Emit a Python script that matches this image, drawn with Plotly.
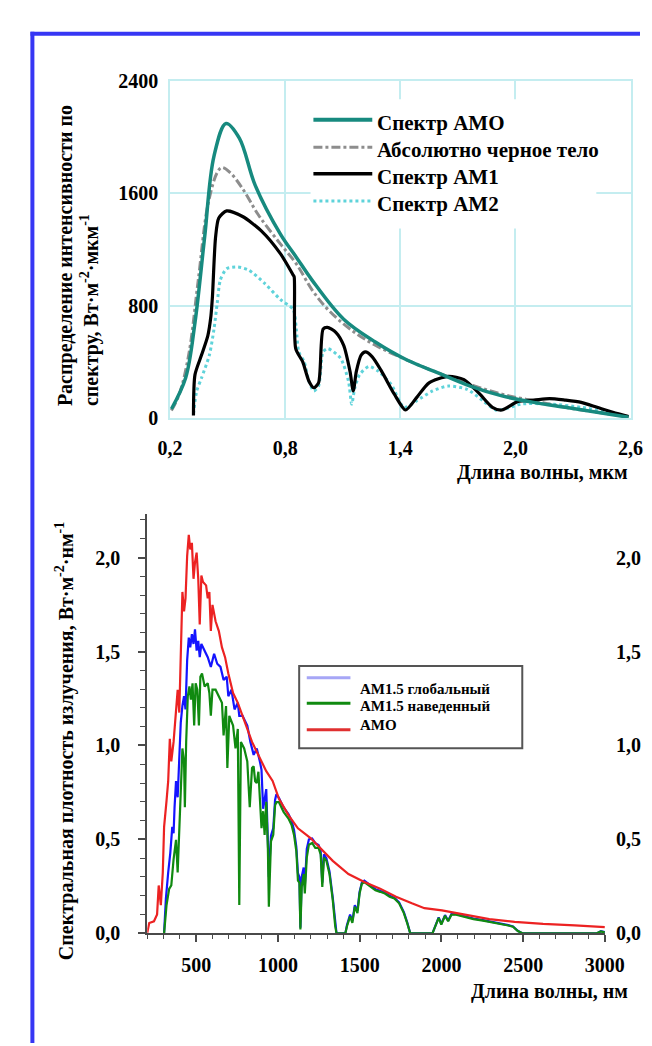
import plotly.graph_objects as go

W, H = 652, 1046
def px(x):
    return x / W
def py(y):
    return 1 - y / H

FONT = "Liberation Serif, Times New Roman, serif"

# ---------------- top chart data (мкм, Вт·м-2·мкм-1) ----------------
TOP_X_TICKS = [0.2, 0.8, 1.4, 2.0, 2.6]
TOP_X_TEXT = ["0,2", "0,8", "1,4", "2,0", "2,6"]
TOP_Y_TICKS = [0, 800, 1600, 2400]
TOP_Y_TEXT = ["0", "800", "1600", "2400"]

AM0_X = [0.207, 0.281, 0.33, 0.38, 0.429, 0.492, 0.561, 0.644, 0.776, 0.858, 0.94, 1.105, 1.27, 1.435, 1.6, 1.765, 1.93, 2.095, 2.26, 2.425, 2.59]
AM0_Y = [67, 287, 682, 1285, 1864, 2096, 1992, 1656, 1308, 1146, 983, 705, 543, 415, 322, 230, 160, 114, 79, 44, 9]

BB_X = [0.207, 0.248, 0.297, 0.347, 0.397, 0.446, 0.47, 0.512, 0.578, 0.66, 0.776, 0.858, 0.94, 1.023, 1.138, 1.27, 1.435, 1.6, 1.765, 1.93, 2.095, 2.26, 2.425, 2.59]
BB_Y = [56, 172, 450, 983, 1517, 1748, 1783, 1748, 1633, 1447, 1238, 1099, 914, 774, 635, 520, 415, 322, 241, 172, 125, 79, 44, 14]

AM1_X = [0.322, 0.33, 0.364, 0.397, 0.413, 0.421, 0.437, 0.454, 0.495, 0.578, 0.677, 0.776, 0.842, 0.847, 0.855, 0.891, 0.924, 0.949, 0.974, 0.998, 1.02, 1.064, 1.105, 1.138, 1.155, 1.171, 1.196, 1.218, 1.254, 1.303, 1.369, 1.427, 1.485, 1.55, 1.65, 1.732, 1.815, 1.88, 1.93, 2.013, 2.096, 2.178, 2.261, 2.343, 2.426, 2.508, 2.59]
AM1_Y = [21, 311, 450, 589, 728, 867, 1285, 1424, 1475, 1435, 1331, 1169, 1018, 1006, 496, 403, 264, 218, 253, 635, 647, 612, 519, 334, 195, 334, 450, 473, 438, 334, 172, 60, 148, 253, 299, 276, 172, 79, 60, 121, 130, 141, 130, 114, 79, 44, 14]

AM2_X = [0.322, 0.339, 0.364, 0.405, 0.429, 0.446, 0.462, 0.495, 0.553, 0.611, 0.693, 0.776, 0.842, 0.858, 0.871, 0.899, 0.924, 0.949, 0.974, 0.998, 1.023, 1.089, 1.13, 1.147, 1.163, 1.188, 1.237, 1.287, 1.353, 1.419, 1.485, 1.568, 1.65, 1.749, 1.831, 1.897, 1.947, 2.029, 2.178, 2.343, 2.508, 2.59]
AM2_Y = [32, 195, 287, 450, 635, 821, 983, 1064, 1076, 1053, 960, 844, 774, 635, 473, 403, 264, 195, 230, 473, 496, 427, 264, 102, 218, 311, 369, 334, 241, 79, 125, 195, 230, 206, 125, 60, 67, 102, 102, 79, 37, 9]

TOP_NAMES = ["Спектр АМО", "Абсолютно черное тело", "Спектр АМ1", "Спектр АМ2"]

# ---------------- bottom chart data (нм, Вт·м-2·нм-1) ----------------
BOT_X_TICKS = [500, 1000, 1500, 2000, 2500, 3000]
BOT_X_TEXT = ["500", "1000", "1500", "2000", "2500", "3000"]
BOT_Y_TICKS = [0.0, 0.5, 1.0, 1.5, 2.0]
BOT_Y_TEXT = ["0,0", "0,5", "1,0", "1,5", "2,0"]

RED_X = [200, 212, 241, 260, 270, 283, 295, 303, 318, 328, 338, 347, 361, 376, 386, 396, 405, 415, 425, 434, 444, 454, 463, 473, 483, 492, 502, 512, 521, 531, 541, 560, 570, 580, 589, 599, 618, 638, 657, 676, 696, 725, 754, 783, 812, 841, 870, 899, 928, 967, 1006, 1064, 1122, 1199, 1257, 1335, 1431, 1528, 1625, 1722, 1819, 1896, 2003, 2138, 2293, 2448, 2622, 2816, 3000]
RED_Y = [0.003, 0.055, 0.064, 0.10, 0.255, 0.15, 0.324, 0.567, 0.706, 0.81, 1.036, 0.915, 1.019, 1.21, 1.296, 1.175, 1.574, 1.817, 1.713, 1.783, 2.008, 2.121, 2.043, 2.078, 1.887, 1.974, 2.026, 1.887, 1.644, 1.904, 1.87, 1.852, 1.783, 1.817, 1.609, 1.748, 1.661, 1.609, 1.522, 1.47, 1.383, 1.279, 1.227, 1.158, 1.088, 1.019, 0.967, 0.915, 0.863, 0.811, 0.716, 0.629, 0.559, 0.507, 0.455, 0.386, 0.316, 0.273, 0.238, 0.195, 0.16, 0.134, 0.122, 0.099, 0.076, 0.061, 0.050, 0.042, 0.033]

BLUE_X = [303, 314, 328, 341, 353, 361, 367, 376, 386, 396, 405, 415, 425, 434, 444, 454, 463, 473, 483, 492, 502, 512, 521, 531, 551, 570, 589, 609, 628, 648, 667, 686, 696, 715, 734, 754, 763, 783, 812, 831, 851, 870, 889, 899, 909, 918, 928, 938, 944, 957, 971, 982, 990, 1006, 1034, 1064, 1083, 1098, 1112, 1122, 1131, 1137, 1145, 1157, 1164, 1176, 1189, 1209, 1228, 1248, 1261, 1271, 1281, 1296, 1315, 1335, 1350, 1358, 1412, 1422, 1441, 1455, 1470, 1486, 1499, 1513, 1528, 1557, 1577, 1596, 1625, 1654, 1683, 1712, 1741, 1770, 1790, 1809, 1945, 1964, 1983, 1999, 2022, 2041, 2061, 2090, 2138, 2196, 2254, 2312, 2371, 2409, 2438, 2467, 2496, 2950, 2975, 3000]
BLUE_Y = [0.003, 0.185, 0.324, 0.428, 0.567, 0.533, 0.671, 0.81, 0.724, 0.915, 1.123, 1.21, 1.262, 1.192, 1.453, 1.574, 1.522, 1.592, 1.54, 1.618, 1.505, 1.557, 1.47, 1.54, 1.505, 1.47, 1.418, 1.488, 1.435, 1.418, 1.349, 1.366, 1.262, 1.297, 1.192, 1.227, 1.158, 1.158, 1.106, 1.019, 0.95, 0.984, 0.915, 0.87, 0.663, 0.72, 0.768, 0.49, 0.30, 0.52, 0.56, 0.71, 0.741, 0.72, 0.67, 0.635, 0.60, 0.55, 0.46, 0.32, 0.299, 0.03, 0.30, 0.35, 0.25, 0.45, 0.50, 0.505, 0.48, 0.47, 0.44, 0.27, 0.42, 0.40, 0.33, 0.19, 0.05, 0.0, 0.0, 0.045, 0.10, 0.065, 0.15, 0.12, 0.22, 0.27, 0.28, 0.262, 0.245, 0.235, 0.226, 0.216, 0.2, 0.19, 0.165, 0.113, 0.06, 0.0, 0.0, 0.04, 0.085, 0.05, 0.097, 0.067, 0.102, 0.102, 0.09, 0.079, 0.07, 0.061, 0.049, 0.044, 0.037, 0.014, 0.0, 0.0, 0.012, 0.006]

GREEN_X = [303, 318, 334, 347, 361, 376, 386, 396, 405, 415, 425, 430, 438, 448, 458, 467, 477, 487, 496, 506, 516, 525, 535, 551, 570, 580, 589, 599, 618, 638, 657, 667, 682, 690, 702, 725, 740, 754, 763, 773, 793, 812, 827, 841, 851, 860, 870, 880, 889, 899, 909, 918, 928, 938, 944, 957, 971, 982, 990, 1006, 1034, 1064, 1083, 1098, 1112, 1122, 1131, 1137, 1145, 1157, 1164, 1176, 1189, 1209, 1228, 1248, 1261, 1271, 1281, 1296, 1315, 1335, 1350, 1358, 1412, 1422, 1441, 1455, 1470, 1486, 1499, 1513, 1528, 1557, 1577, 1596, 1625, 1654, 1683, 1712, 1741, 1770, 1790, 1809, 1945, 1964, 1983, 1999, 2022, 2041, 2061, 2090, 2138, 2196, 2254, 2312, 2371, 2409, 2438, 2467, 2496, 2950, 2975, 3000]
GREEN_Y = [0.0, 0.151, 0.237, 0.255, 0.394, 0.498, 0.324, 0.567, 0.845, 0.984, 0.915, 0.671, 1.019, 1.262, 1.314, 1.244, 1.331, 1.106, 1.331, 1.297, 1.106, 1.366, 1.383, 1.314, 1.331, 1.279, 1.158, 1.297, 1.297, 1.262, 1.227, 1.053, 1.21, 0.88, 1.158, 1.106, 0.984, 1.088, 0.151, 1.019, 0.984, 0.915, 0.671, 0.88, 0.889, 0.81, 0.80, 0.86, 0.72, 0.56, 0.65, 0.524, 0.70, 0.45, 0.142, 0.49, 0.524, 0.681, 0.698, 0.698, 0.646, 0.611, 0.577, 0.524, 0.438, 0.281, 0.27, 0.021, 0.247, 0.316, 0.212, 0.403, 0.472, 0.481, 0.455, 0.455, 0.42, 0.247, 0.403, 0.386, 0.316, 0.177, 0.038, 0.0, 0.0, 0.038, 0.09, 0.056, 0.142, 0.108, 0.212, 0.264, 0.273, 0.255, 0.238, 0.229, 0.221, 0.212, 0.195, 0.186, 0.16, 0.108, 0.056, 0.0, 0.0, 0.038, 0.082, 0.047, 0.094, 0.064, 0.099, 0.099, 0.087, 0.076, 0.068, 0.059, 0.047, 0.042, 0.035, 0.012, 0.0, 0.0, 0.01, 0.005]

BOT_NAMES = ["AM1.5 глобальный", "AM1.5 наведенный", "AMO"]

for a, b in [(AM0_X, AM0_Y), (BB_X, BB_Y), (AM1_X, AM1_Y), (AM2_X, AM2_Y),
             (RED_X, RED_Y), (BLUE_X, BLUE_Y), (GREEN_X, GREEN_Y)]:
    assert len(a) == len(b), (len(a), len(b))

# ---------------- styles ----------------
C_AM0 = "#178a7f"
C_BB = "#8d8d8d"
C_AM1 = "#000000"
C_AM2 = "#5fd3da"
C_GRID = "#c4edf0"
C_RED = "#ec2222"
C_BLUE = "#1414ff"
C_GREEN = "#108a10"
C_FRAME = "#4a4a4a"

fig = go.Figure()

# top chart traces
fig.add_trace(go.Scatter(x=AM2_X, y=AM2_Y, mode="lines", xaxis="x", yaxis="y",
                         line=dict(color=C_AM2, width=3, dash="dot", shape="spline", smoothing=0.7),
                         showlegend=False))
fig.add_trace(go.Scatter(x=BB_X, y=BB_Y, mode="lines", xaxis="x", yaxis="y",
                         line=dict(color=C_BB, width=3, dash="dashdot", shape="spline", smoothing=1.0),
                         showlegend=False))
fig.add_trace(go.Scatter(x=AM1_X, y=AM1_Y, mode="lines", xaxis="x", yaxis="y",
                         line=dict(color=C_AM1, width=3.2, shape="spline", smoothing=0.7),
                         showlegend=False))
fig.add_trace(go.Scatter(x=AM0_X, y=AM0_Y, mode="lines", xaxis="x", yaxis="y",
                         line=dict(color=C_AM0, width=3.5, shape="spline", smoothing=1.0),
                         showlegend=False))

# bottom chart traces
fig.add_trace(go.Scatter(x=BLUE_X, y=BLUE_Y, mode="lines", xaxis="x2", yaxis="y2",
                         line=dict(color=C_BLUE, width=2.2), showlegend=False))
fig.add_trace(go.Scatter(x=GREEN_X, y=GREEN_Y, mode="lines", xaxis="x2", yaxis="y2",
                         line=dict(color=C_GREEN, width=2.2), showlegend=False))
fig.add_trace(go.Scatter(x=RED_X, y=RED_Y, mode="lines", xaxis="x2", yaxis="y2",
                         line=dict(color=C_RED, width=2.2), showlegend=False))

tickfont = dict(family=FONT, size=20, color="black", weight="bold")

layout = dict(
    width=W, height=H,
    margin=dict(l=0, r=0, t=0, b=0),
    paper_bgcolor="white", plot_bgcolor="white",
    showlegend=False,
    font=dict(family=FONT, color="black"),
    xaxis=dict(domain=[px(157), px(642)], anchor="y", range=[0.2, 2.6],
               tickvals=TOP_X_TICKS, ticktext=TOP_X_TEXT, tickfont=tickfont,
               showgrid=True, gridcolor=C_GRID, gridwidth=1.5, zeroline=False,
               showline=True, linecolor=C_GRID, linewidth=1.5, mirror=True,
               ticks="", ticklabelstandoff=11, ticklabeloverflow="allow"),
    yaxis=dict(domain=[py(408), py(63)], anchor="x", range=[0, 2400],
               tickvals=TOP_Y_TICKS, ticktext=TOP_Y_TEXT, tickfont=tickfont,
               showgrid=True, gridcolor=C_GRID, gridwidth=1.5, zeroline=False,
               showline=True, linecolor=C_GRID, linewidth=1.5, mirror=True,
               ticks="", ticklabelstandoff=6, ticklabeloverflow="allow"),
    xaxis2=dict(domain=[px(133), px(615)], anchor="y2", range=[200, 3000],
                tickvals=BOT_X_TICKS, ticktext=BOT_X_TEXT, tickfont=tickfont,
                showgrid=False, zeroline=False, showline=True, linecolor=C_FRAME, linewidth=2,
                ticks="outside", ticklen=7, tickwidth=1.5, tickcolor=C_FRAME,
                minor=dict(ticks="outside", tick0=0, dtick=100, ticklen=4, tickwidth=1.2, tickcolor=C_FRAME),
                ticklabelstandoff=6, ticklabeloverflow="allow"),
    xaxis3=dict(overlaying="x2", anchor="y2", side="top", range=[200, 3000],
                tickvals=BOT_X_TICKS, showticklabels=False,
                showgrid=False, zeroline=False, showline=True, linecolor=C_FRAME, linewidth=2,
                ticks="inside", ticklen=8, tickwidth=1.5, tickcolor=C_FRAME,
                minor=dict(ticks="inside", tick0=0, dtick=100, ticklen=4, tickwidth=1.2, tickcolor=C_FRAME)),
    yaxis2=dict(domain=[py(934), py(506)], anchor="x2", range=[0, 2.23],
                tickvals=BOT_Y_TICKS, ticktext=BOT_Y_TEXT, tickfont=tickfont,
                showgrid=False, zeroline=False, showline=True, linecolor=C_FRAME, linewidth=2,
                ticks="outside", ticklen=7, tickwidth=1.5, tickcolor=C_FRAME,
                minor=dict(ticks="outside", tick0=0, dtick=0.1, ticklen=5, tickwidth=1.2, tickcolor=C_FRAME),
                ticklabelstandoff=14, ticklabeloverflow="allow"),
    yaxis3=dict(overlaying="y2", anchor="x2", side="right", range=[0, 2.23],
                tickvals=BOT_Y_TICKS, showticklabels=False,
                showgrid=False, zeroline=False, showline=True, linecolor=C_FRAME, linewidth=2,
                ticks="inside", ticklen=7, tickwidth=1.5, tickcolor=C_FRAME,
                minor=dict(ticks="inside", tick0=0, dtick=0.1, ticklen=5, tickwidth=1.2, tickcolor=C_FRAME)),
)
fig.update_layout(**layout)

shapes = []
annotations = []

# right-hand tick labels of the lower chart (placed on the y2 scale)
for val, txt in zip(BOT_Y_TICKS, BOT_Y_TEXT):
    annotations.append(dict(text=txt, xref="paper", yref="y2", x=px(625), y=val,
                            xanchor="left", yanchor="middle", showarrow=False,
                            font=tickfont))

# blue page border
shapes.append(dict(type="line", xref="paper", yref="paper", x0=px(12), x1=px(12), y0=0, y1=py(13),
                   line=dict(color="#3636f4", width=4)))
shapes.append(dict(type="line", xref="paper", yref="paper", x0=px(10), x1=1, y0=py(15), y1=py(15),
                   line=dict(color="#3636f4", width=4)))

# top legend
shapes.append(dict(type="rect", xref="paper", yref="paper", x0=px(305), x1=px(606), y0=py(82), y1=py(214),
                   fillcolor="white", line=dict(width=0), layer="above"))
top_styles = [(C_AM0, "solid", 4), (C_BB, "dashdot", 3), (C_AM1, "solid", 3.5), (C_AM2, "dot", 3)]
top_rows = [103, 131, 158, 186]
for name, (col, dash, wdt), yy in zip(TOP_NAMES, top_styles, top_rows):
    shapes.append(dict(type="line", xref="paper", yref="paper", x0=px(308), x1=px(370), y0=py(yy), y1=py(yy),
                       line=dict(color=col, width=wdt, dash=dash), layer="above"))
    annotations.append(dict(text=name, xref="paper", yref="paper", x=px(373), y=py(yy + 3),
                            xanchor="left", yanchor="middle", showarrow=False,
                            font=dict(family=FONT, size=21, color="black", weight="bold")))

# bottom legend
shapes.append(dict(type="rect", xref="paper", yref="paper", x0=px(293), x1=px(528), y0=py(661), y1=py(745),
                   fillcolor="white", line=dict(color="#555555", width=2), layer="above"))
bot_cols = ["#a6a6f6", C_GREEN, "#e03030"]
bot_line_rows = [673, 699, 726]
bot_text_rows = [684, 702, 721]
for name, col, yl, yt in zip(BOT_NAMES, bot_cols, bot_line_rows, bot_text_rows):
    shapes.append(dict(type="line", xref="paper", yref="paper", x0=px(301), x1=px(347), y0=py(yl), y1=py(yl),
                       line=dict(color=col, width=3), layer="above"))
    annotations.append(dict(text=name, xref="paper", yref="paper", x=px(355), y=py(yt),
                            xanchor="left", yanchor="middle", showarrow=False,
                            font=dict(family=FONT, size=15, color="black", weight="bold")))

# axis titles
title_font = dict(family=FONT, size=20, color="black", weight="bold")
annotations.append(dict(text="Распределение интенсивности по<br>спектру, Вт·м<sup>-2</sup>·мкм<sup>-1</sup>",
                        xref="paper", yref="paper", x=px(60), y=py(397), xanchor="center", yanchor="bottom",
                        textangle=-90, align="left", showarrow=False, font=title_font))
annotations.append(dict(text="Длина волны, мкм", xref="paper", yref="paper", x=px(641), y=py(463),
                        xanchor="right", yanchor="middle", showarrow=False, font=title_font))
annotations.append(dict(text="Спектральная плотность излучения, Вт·м<sup>-2</sup>·нм<sup>-1</sup>",
                        xref="paper", yref="paper", x=px(46), y=py(738), xanchor="center", yanchor="middle",
                        textangle=-90, showarrow=False, font=title_font))
annotations.append(dict(text="Длина волны, нм", xref="paper", yref="paper", x=px(641), y=py(993),
                        xanchor="right", yanchor="middle", showarrow=False, font=title_font))

fig.update_layout(shapes=shapes, annotations=annotations)
fig.write_html("out.html")
